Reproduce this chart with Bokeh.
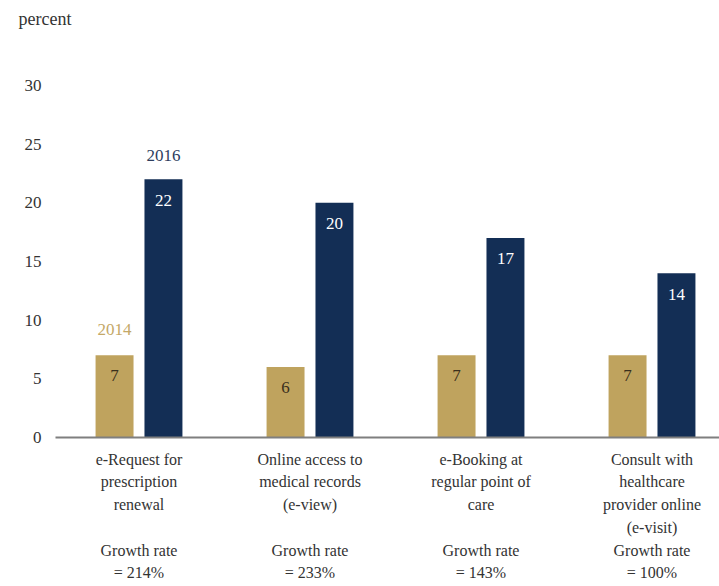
from bokeh.plotting import figure
from bokeh.models import ColumnDataSource, FixedTicker, Range1d, Label, Title
from bokeh.transform import dodge
from bokeh.core.properties import value
from bokeh.embed import file_html
from bokeh.resources import INLINE

# ---- data ----
categories = [
    "e-Request for\nprescription\nrenewal",
    "Online access to\nmedical records\n(e-view)",
    "e-Booking at\nregular point of\ncare",
    "Consult with\nhealthcare\nprovider online\n(e-visit)",
]
growth_rates = ["214%", "233%", "143%", "100%"]
values_2014 = [7, 6, 7, 7]
values_2016 = [22, 20, 17, 14]
series_names = ["2014", "2016"]
y_ticks = [0, 5, 10, 15, 20, 25, 30]

GOLD = "#BFA35E"
NAVY = "#132E55"
FONT = "Liberation Serif"
TXT = "#333333"

idx = list(range(len(categories)))
src = ColumnDataSource(dict(
    idx=idx,
    v2014=values_2014,
    v2016=values_2016,
    l2014=[str(v) for v in values_2014],
    l2016=[str(v) for v in values_2016],
))

x0 = -0.4883
x1 = 3.3947
p = figure(width=719, height=586, output_backend="svg", toolbar_location=None,
           x_range=Range1d(x0, x1), y_range=Range1d(0, 34.33),
           min_border_left=55, min_border_right=0, min_border_top=0,
           min_border_bottom=149)
p.outline_line_color = None
p.xgrid.visible = False
p.ygrid.visible = False
p.background_fill_color = "white"
p.border_fill_color = "white"

p.title = Title(text="percent", align="left", offset=-37, standoff=12,
                text_font=FONT, text_font_size="18px", text_font_style="normal",
                text_color=TXT)

off = 0.143
bw = 0.222
p.vbar(x=dodge("idx", -off), top="v2014", width=bw, source=src,
       fill_color=GOLD, line_color=None)
p.vbar(x=dodge("idx", off), top="v2016", width=bw, source=src,
       fill_color=NAVY, line_color=None)

p.text(x=dodge("idx", -off), y="v2014", text="l2014", source=src,
       text_align="center", text_baseline="middle", y_offset=20,
       text_font=value(FONT), text_font_size="17px", text_color="#3a2f1c")
p.text(x=dodge("idx", off), y="v2016", text="l2016", source=src,
       text_align="center", text_baseline="middle", y_offset=21,
       text_font=value(FONT), text_font_size="17px", text_color="white")

# series labels above first group
p.add_layout(Label(x=idx[0] - off, y=values_2014[0], text=series_names[0],
                   text_align="center", text_baseline="middle", y_offset=26,
                   text_font=FONT, text_font_size="17px", text_color="#C4A867"))
p.add_layout(Label(x=idx[0] + off, y=values_2016[0], text=series_names[1],
                   text_align="center", text_baseline="middle", y_offset=24,
                   text_font=FONT, text_font_size="17px", text_color="#2E3D5E"))

# x axis
xa = p.xaxis[0]
xa.ticker = FixedTicker(ticks=idx)
xa.major_label_overrides = {
    i: f"{c}\n\nGrowth rate\n= {g}" if c.count("\n") < 3 else f"{c}\nGrowth rate\n= {g}"
    for i, (c, g) in enumerate(zip(categories, growth_rates))
}
xa.axis_line_color = "#7F7F7F"
xa.axis_line_width = 2
xa.major_tick_line_color = None
xa.minor_tick_line_color = None
xa.major_tick_out = 0
xa.major_tick_in = 0
xa.major_label_standoff = 13
xa.major_label_text_font = FONT
xa.major_label_text_font_size = "16px"
xa.major_label_text_color = TXT
xa.major_label_text_line_height = 1.34

# y axis
ya = p.yaxis[0]
ya.ticker = FixedTicker(ticks=y_ticks)
ya.axis_line_color = None
ya.major_tick_line_color = None
ya.minor_tick_line_color = None
ya.major_tick_out = 0
ya.major_tick_in = 0
ya.major_label_standoff = 14
ya.major_label_text_font = FONT
ya.major_label_text_font_size = "17px"
ya.major_label_text_color = TXT

open("out.html", "w").write(file_html(p, INLINE))
